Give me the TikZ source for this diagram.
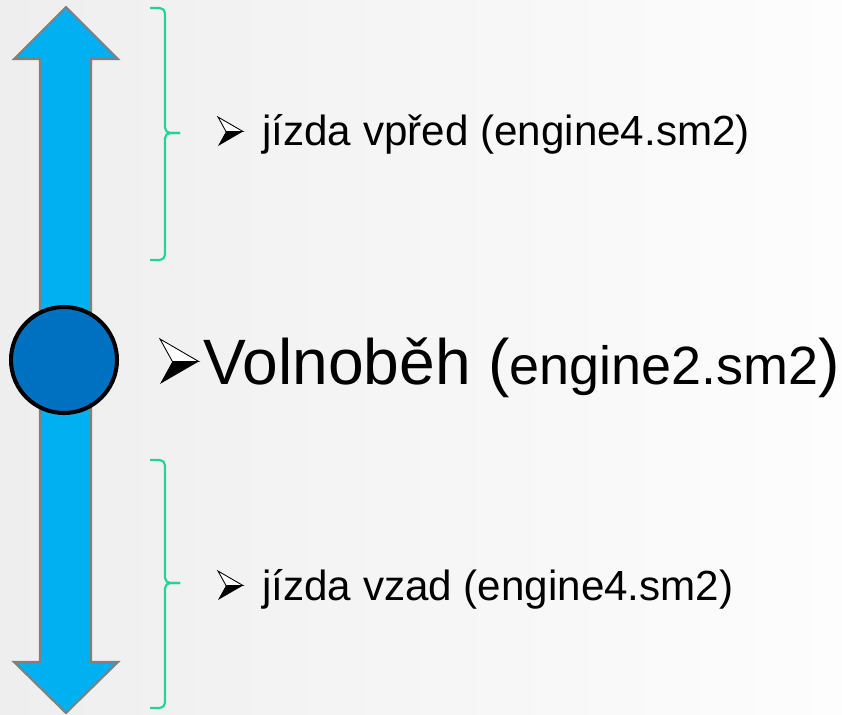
\documentclass[tikz,border=0pt]{standalone}
\usepackage{fontspec}
\setmainfont{Liberation Sans}
\usepackage{tikz}
\usetikzlibrary{positioning}
\usepackage{xcolor}
\definecolor{bgleft}{HTML}{EEEEEE}
\definecolor{bgright}{HTML}{FDFDFD}
\definecolor{barfill}{HTML}{00B0F0}
\definecolor{barline}{HTML}{808080}
\definecolor{knobfill}{HTML}{0070C0}
\definecolor{bracegreen}{RGB}{34,211,150}

% arrowhead bullet: light upper half, dark lower half
\tikzset{pics/pointer/.style={code={
  \draw[fill=white,line width=0.5pt,line join=miter] (0,0) -- (25,14.5) -- (8,14.5) -- cycle;
  \fill[black] (8,14.5) -- (25,14.5) -- (0,29) -- cycle;
}}}

\begin{document}
\begin{tikzpicture}[x=0.02cm,y=-0.02cm,
  bracel/.style={bracegreen,line width=1.2pt,rounded corners=3},
  itemtext/.style={anchor=base west,inner sep=0pt,font=\fontsize{24}{28}\selectfont}]
\fill[left color=bgleft,right color=bgright] (0,0) rectangle (842,714);
\useasboundingbox (0,0) rectangle (842,714);
% double arrow (shaft with two heads)
\draw[barline,fill=barfill,line width=1.2pt,line join=miter]
  (66,7) -- (118,59) -- (91,59) -- (91,662) -- (118,662) -- (66,713)
  -- (14,662) -- (40,662) -- (40,59) -- (14,59) -- cycle;
\node[circle,draw=black,fill=knobfill,line width=2.3pt,minimum size=106*0.02cm,inner sep=0pt] (knob) at (64,360) {};
% braces
\draw[bracel] (150,8) -- (165,8) -- (165,133) -- (180,133);
\draw[bracel] (180,133) -- (165,133) -- (165,260) -- (150,260);
\draw[bracel] (150,460) -- (165,460) -- (165,583) -- (180,583);
\draw[bracel] (180,583) -- (165,583) -- (165,708) -- (150,708);
% items
\pic at (218,117) {pointer};
\node[itemtext] (fwd) at (262,145) {jízda vpřed (engine4.sm2)};
\pic[scale=1.55] at (160,339) {pointer};
\node[anchor=base west,inner sep=0pt] (idle) at (203,384)
  {\fontsize{36.5}{40}\selectfont Volnoběh (\fontsize{30.7}{36}\selectfont engine2.sm2\fontsize{36.5}{40}\selectfont)};
\pic at (218,571) {pointer};
\node[itemtext] (back) at (262,600) {jízda vzad (engine4.sm2)};
\end{tikzpicture}
\end{document}
